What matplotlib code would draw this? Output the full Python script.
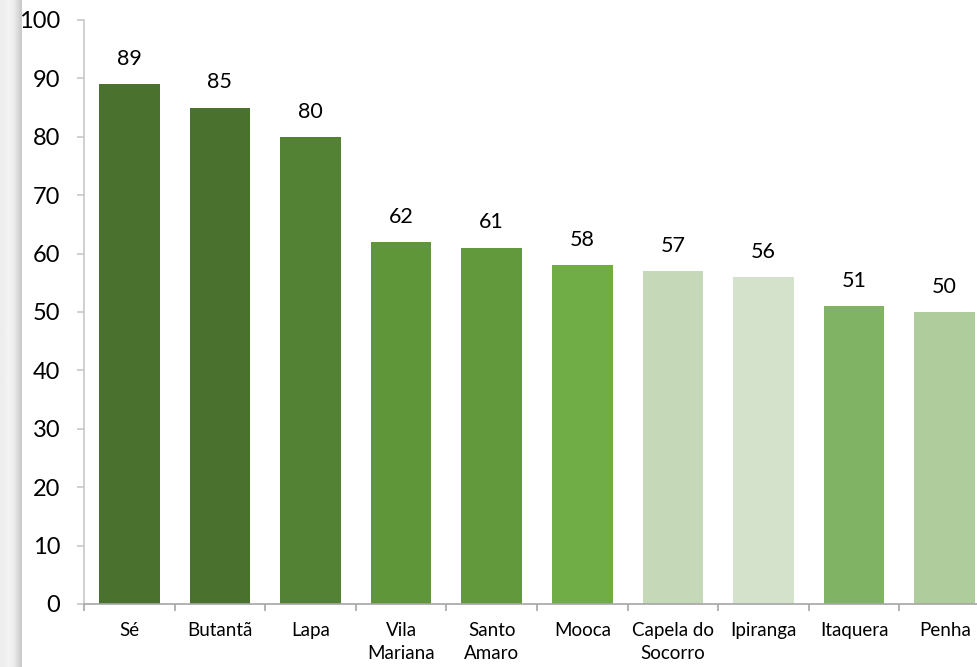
import numpy as np
import matplotlib
matplotlib.use("Agg")
import matplotlib.pyplot as plt

categories = ["Sé", "Butantã", "Lapa", "Vila\nMariana", "Santo\nAmaro", "Mooca",
              "Capela do\nSocorro", "Ipiranga", "Itaquera", "Penha"]
values = [89, 85, 80, 62, 61, 58, 57, 56, 51, 50]
bar_colors = ["#4a722e", "#4a722e", "#548235", "#5f963a", "#62993c", "#70ad47",
              "#c5d9b9", "#d4e2cc", "#80b364", "#aecc9c"]
y_ticks = list(range(0, 101, 10))

plt.rcParams['font.family'] = ['Lato', 'DejaVu Sans']

fig = plt.figure(figsize=(9.77, 6.67), dpi=100)
fig.patch.set_facecolor("white")

# gray shaded strip on the far left edge
strip = fig.add_axes([0, 0, 22 / 977, 1])
grad = np.array([[0.93, 0.93, 0.94, 0.95, 0.95, 0.94, 0.92, 0.88, 0.84, 0.80]])
strip.imshow(grad, cmap="gray", vmin=0, vmax=1, aspect="auto", extent=[0, 1, 0, 1])
strip.set_axis_off()

ax = fig.add_axes([84 / 977, 63 / 667, 906 / 977, 584 / 667])
x = np.arange(len(categories))
ax.bar(x, values, width=0.67, color=bar_colors, zorder=2)

for xi, v in zip(x, values):
    ax.annotate(f"{v}", (xi, v), xytext=(0, 11), textcoords="offset points",
                ha="center", va="bottom", fontsize=15.5, color="black")

ax.set_xlim(-0.5, len(categories) - 0.5)
ax.set_ylim(0, 100)
ax.set_yticks(y_ticks)
ax.set_yticklabels([str(t) for t in y_ticks], fontsize=17)

ax.set_xticks(x)
ax.set_xticklabels(categories, fontsize=13.5, linespacing=1.45, va="top")
ax.set_xticks(np.arange(-0.5, len(categories), 1), minor=True)
ax.tick_params(axis="x", which="major", length=0, pad=13)
ax.tick_params(axis="x", which="minor", length=5, width=1.2, color="#a6a6a6", direction="out")
ax.tick_params(axis="y", length=5, width=1.2, color="#c8c8c8", pad=12)

for side in ["top", "right"]:
    ax.spines[side].set_visible(False)
ax.spines["left"].set_color("#c8c8c8")
ax.spines["left"].set_linewidth(1.2)
ax.spines["bottom"].set_color("#a6a6a6")
ax.spines["bottom"].set_linewidth(1.2)

fig.savefig("out.png", dpi=100)
